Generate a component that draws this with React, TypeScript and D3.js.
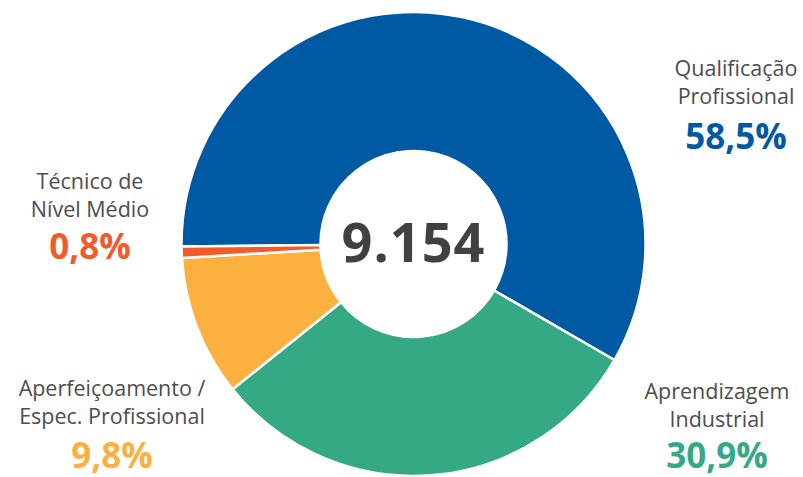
import { useEffect, useRef } from 'react';
import * as d3 from 'd3';

// chart data
const categories = ['Qualificação Profissional', 'Aprendizagem Industrial', 'Aperfeiçoamento / Espec. Profissional', 'Técnico de Nível Médio'];
const labelLines = [
  ['Qualificação', 'Profissional'],
  ['Aprendizagem', 'Industrial'],
  ['Aperfeiçoamento /', 'Espec. Profissional'],
  ['Técnico de', 'Nível Médio'],
];
const shares = [58.5, 30.9, 9.8, 0.8];
const shareLabels = ['58,5%', '30,9%', '9,8%', '0,8%'];
const colors = ['#0059a3', '#35a985', '#fbb040', '#f15a29'];
const totalLabel = '9.154';

// label anchor spots (center x, first-line baseline, percent baseline)
const labelPos = [
  { x: 736, y: 76, py: 149 },
  { x: 717, y: 399, py: 468 },
  { x: 112, y: 396, py: 468 },
  { x: 90, y: 189, py: 259 },
];

const W = 803;
const H = 477;

export default function App() {
  const svgRef = useRef<SVGSVGElement>(null);

  useEffect(() => {
    if (!svgRef.current) return;
    const svg = d3.select(svgRef.current);
    svg.selectAll('*').remove();

    const cx = 413.5;
    const cy = 244;
    const outer = 232;
    const inner = 93;
    const start = (-90.6 * Math.PI) / 180;

    const pie = d3.pie<number>()
      .sort(null)
      .value(d => d)
      .startAngle(start)
      .endAngle(start + 2 * Math.PI);

    const arc = d3.arc<d3.PieArcDatum<number>>()
      .innerRadius(inner)
      .outerRadius(outer);

    const g = svg.append('g').attr('transform', `translate(${cx},${cy})`);

    g.selectAll('path')
      .data(pie(shares))
      .join('path')
      .attr('d', arc)
      .attr('fill', (_, i) => colors[i])
      .attr('stroke', '#ffffff')
      .attr('stroke-width', 2.5)
      .attr('stroke-linejoin', 'round');

    g.append('text')
      .attr('text-anchor', 'middle')
      .attr('y', 18)
      .attr('font-family', '"Open Sans", sans-serif')
      .attr('font-weight', 700)
      .attr('font-size', 54)
      .attr('letter-spacing', 1)
      .attr('fill', '#414143')
      .text(totalLabel);

    // labels: two-line name + bold percent
    categories.forEach((_, i) => {
      const p = labelPos[i];
      labelLines[i].forEach((line, j) => {
        svg.append('text')
          .attr('x', p.x)
          .attr('y', p.y + j * 28)
          .attr('text-anchor', 'middle')
          .attr('font-family', '"Open Sans", sans-serif')
          .attr('font-size', 21.5)
          .attr('fill', '#4d4d4f')
          .text(line);
      });
      svg.append('text')
        .attr('x', p.x)
        .attr('y', p.py)
        .attr('text-anchor', 'middle')
        .attr('font-family', '"Open Sans", sans-serif')
        .attr('font-weight', 700)
        .attr('font-size', 35)
        .attr('fill', colors[i])
        .text(shareLabels[i]);
    });
  }, []);

  return (
    <svg
      ref={svgRef}
      width={W}
      height={H}
      style={{ position: 'absolute', left: 0, top: 0, background: '#ffffff' }}
    />
  );
}
